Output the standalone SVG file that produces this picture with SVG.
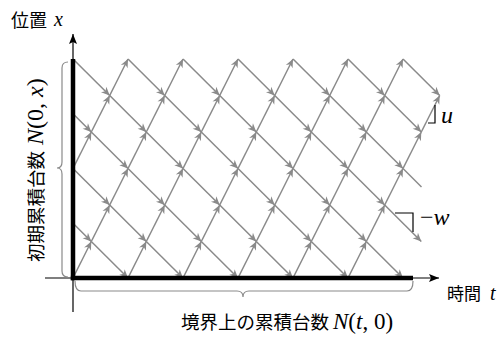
<svg xmlns="http://www.w3.org/2000/svg" width="504" height="338" viewBox="0 0 504 338">
<style>
.a{stroke:#8a8a8a;stroke-width:1.5;fill:none;marker-end:url(#ga)}
.p{stroke:#8a8a8a;stroke-width:1.5;fill:none}
.br{stroke:#8a8a8a;stroke-width:1.2;fill:none}
.ax{stroke:#000;stroke-width:1.2;fill:none}
.th{stroke:#000;stroke-width:4.5;fill:none}
.mk{stroke:#000;stroke-width:1.2;fill:none}
.jp{font-family:"Noto Sans CJK JP","Noto Sans",sans-serif;font-size:18px;fill:#000}
.m{font-family:"Liberation Serif",serif;font-size:22px;fill:#000}
.i{font-style:italic}
</style>
<defs>
<marker id="ga" markerUnits="userSpaceOnUse" markerWidth="12" markerHeight="10" viewBox="-10 -5 12 10" refX="0" refY="0" orient="auto">
<path d="M0,0 L-8.5,-3.8 L-6,0 L-8.5,3.8 Z" fill="#8a8a8a"/>
</marker>
<marker id="ka" markerUnits="userSpaceOnUse" markerWidth="12" markerHeight="10" viewBox="-10 -5 12 10" refX="0" refY="0" orient="auto">
<path d="M0,0 L-10,-4 L-8,0 L-10,4 Z" fill="#000"/>
</marker>
</defs>
<g id="connectors">
<line class="a" x1="73" y1="59" x2="109.7" y2="95.5"/>
<line class="a" x1="128" y1="59" x2="164.7" y2="95.5"/>
<line class="a" x1="183" y1="59" x2="219.7" y2="95.5"/>
<line class="a" x1="238" y1="59" x2="274.7" y2="95.5"/>
<line class="a" x1="293" y1="59" x2="329.7" y2="95.5"/>
<line class="a" x1="348" y1="59" x2="384.7" y2="95.5"/>
<line class="a" x1="403" y1="59" x2="439.7" y2="95.5"/>
<line class="a" x1="73" y1="113.8" x2="91.3" y2="132"/>
<line class="a" x1="109.7" y1="95.5" x2="146.3" y2="132"/>
<line class="a" x1="164.7" y1="95.5" x2="201.3" y2="132"/>
<line class="a" x1="219.7" y1="95.5" x2="256.3" y2="132"/>
<line class="a" x1="274.7" y1="95.5" x2="311.3" y2="132"/>
<line class="a" x1="329.7" y1="95.5" x2="366.3" y2="132"/>
<line class="a" x1="384.7" y1="95.5" x2="421.3" y2="132"/>
<line class="a" x1="91.3" y1="132" x2="128" y2="168.5"/>
<line class="a" x1="146.3" y1="132" x2="183" y2="168.5"/>
<line class="a" x1="201.3" y1="132" x2="238" y2="168.5"/>
<line class="a" x1="256.3" y1="132" x2="293" y2="168.5"/>
<line class="a" x1="311.3" y1="132" x2="348" y2="168.5"/>
<line class="a" x1="366.3" y1="132" x2="403" y2="168.5"/>
<line class="a" x1="73" y1="168.5" x2="109.7" y2="205"/>
<line class="a" x1="128" y1="168.5" x2="164.7" y2="205"/>
<line class="a" x1="183" y1="168.5" x2="219.7" y2="205"/>
<line class="a" x1="238" y1="168.5" x2="274.7" y2="205"/>
<line class="a" x1="293" y1="168.5" x2="329.7" y2="205"/>
<line class="a" x1="348" y1="168.5" x2="384.7" y2="205"/>
<line class="p" x1="403" y1="168.5" x2="421.5" y2="187"/>
<line class="a" x1="73" y1="223.3" x2="91.3" y2="241.5"/>
<line class="a" x1="109.7" y1="205" x2="146.3" y2="241.5"/>
<line class="a" x1="164.7" y1="205" x2="201.3" y2="241.5"/>
<line class="a" x1="219.7" y1="205" x2="256.3" y2="241.5"/>
<line class="a" x1="274.7" y1="205" x2="311.3" y2="241.5"/>
<line class="a" x1="329.7" y1="205" x2="366.3" y2="241.5"/>
<line class="a" x1="384.7" y1="205" x2="421.3" y2="241.5"/>
<line class="a" x1="91.3" y1="241.5" x2="128" y2="278"/>
<line class="a" x1="146.3" y1="241.5" x2="183" y2="278"/>
<line class="a" x1="201.3" y1="241.5" x2="238" y2="278"/>
<line class="a" x1="256.3" y1="241.5" x2="293" y2="278"/>
<line class="a" x1="311.3" y1="241.5" x2="348" y2="278"/>
<line class="a" x1="366.3" y1="241.5" x2="403" y2="278"/>
<line class="a" x1="73" y1="278" x2="91.3" y2="241.5"/>
<line class="a" x1="128" y1="278" x2="146.3" y2="241.5"/>
<line class="a" x1="183" y1="278" x2="201.3" y2="241.5"/>
<line class="a" x1="238" y1="278" x2="256.3" y2="241.5"/>
<line class="a" x1="293" y1="278" x2="311.3" y2="241.5"/>
<line class="a" x1="348" y1="278" x2="366.3" y2="241.5"/>
<line class="a" x1="91.3" y1="241.5" x2="109.7" y2="205"/>
<line class="a" x1="146.3" y1="241.5" x2="164.7" y2="205"/>
<line class="a" x1="201.3" y1="241.5" x2="219.7" y2="205"/>
<line class="a" x1="256.3" y1="241.5" x2="274.7" y2="205"/>
<line class="a" x1="311.3" y1="241.5" x2="329.7" y2="205"/>
<line class="a" x1="366.3" y1="241.5" x2="384.7" y2="205"/>
<line class="a" x1="109.7" y1="205" x2="128" y2="168.5"/>
<line class="a" x1="164.7" y1="205" x2="183" y2="168.5"/>
<line class="a" x1="219.7" y1="205" x2="238" y2="168.5"/>
<line class="a" x1="274.7" y1="205" x2="293" y2="168.5"/>
<line class="a" x1="329.7" y1="205" x2="348" y2="168.5"/>
<line class="a" x1="384.7" y1="205" x2="403" y2="168.5"/>
<line class="a" x1="73" y1="168.5" x2="91.3" y2="132"/>
<line class="a" x1="128" y1="168.5" x2="146.3" y2="132"/>
<line class="a" x1="183" y1="168.5" x2="201.3" y2="132"/>
<line class="a" x1="238" y1="168.5" x2="256.3" y2="132"/>
<line class="a" x1="293" y1="168.5" x2="311.3" y2="132"/>
<line class="a" x1="348" y1="168.5" x2="366.3" y2="132"/>
<line class="a" x1="403" y1="168.5" x2="421.3" y2="132"/>
<line class="a" x1="91.3" y1="132" x2="109.7" y2="95.5"/>
<line class="a" x1="146.3" y1="132" x2="164.7" y2="95.5"/>
<line class="a" x1="201.3" y1="132" x2="219.7" y2="95.5"/>
<line class="a" x1="256.3" y1="132" x2="274.7" y2="95.5"/>
<line class="a" x1="311.3" y1="132" x2="329.7" y2="95.5"/>
<line class="a" x1="366.3" y1="132" x2="384.7" y2="95.5"/>
<line class="a" x1="421.3" y1="132" x2="439.7" y2="95.5"/>
<line class="a" x1="109.7" y1="95.5" x2="128" y2="59"/>
<line class="a" x1="164.7" y1="95.5" x2="183" y2="59"/>
<line class="a" x1="219.7" y1="95.5" x2="238" y2="59"/>
<line class="a" x1="274.7" y1="95.5" x2="293" y2="59"/>
<line class="a" x1="329.7" y1="95.5" x2="348" y2="59"/>
<line class="a" x1="384.7" y1="95.5" x2="403" y2="59"/>
</g>
<g id="axes">
<line class="ax" x1="73" y1="312" x2="73" y2="34" marker-end="url(#ka)"/>
<line class="ax" x1="45" y1="278" x2="439" y2="278" marker-end="url(#ka)"/>
<line class="th" x1="73" y1="59" x2="73" y2="280.2"/>
<line class="th" x1="70.8" y1="278" x2="413" y2="278"/>
</g>
<g id="brace-left">
<path class="br" d="M68,62 Q62,62 62,68 L62,162 Q62,168 57,168 Q62,168 62,174 L62,271 Q62,277 68,277"/>
</g>
<g id="brace-bottom">
<path class="br" d="M75,281 Q75,291 81,291 L237,291 Q243,291 243,297 Q243,291 249,291 L407,291 Q413,291 413,281"/>
</g>
<g id="slope-u">
<path class="mk" d="M428,123 L435,123 L435,105"/>
<text class="m i" x="441" y="123" style="font-size:24px">u</text>
</g>
<g id="slope-w">
<path class="mk" d="M395,213 L413,213 L413,232"/>
<text class="m" x="420" y="225" style="font-size:24px">−<tspan class="i">w</tspan></text>
</g>
<g id="labels">
<text class="jp" x="11" y="27">位置</text>
<text class="m i" x="54" y="26" style="font-size:20px">x</text>
<text class="jp" x="447" y="300" style="font-size:17px">時間</text>
<text class="m i" x="490" y="300" style="font-size:20px">t</text>
<text class="jp" x="181" y="329" style="font-size:18.5px">境界上の累積台数</text>
<text class="m" x="333" y="329" style="font-size:23px"><tspan class="i">N</tspan>(<tspan class="i">t</tspan>, 0)</text>
<g transform="translate(43,262) rotate(-90)">
<text class="jp" x="0" y="0" style="font-size:18.5px">初期累積台数</text>
<text class="m" x="117" y="0" style="font-size:24px"><tspan class="i">N</tspan>(0, <tspan class="i">x</tspan>)</text>
</g>
</g>
</svg>
